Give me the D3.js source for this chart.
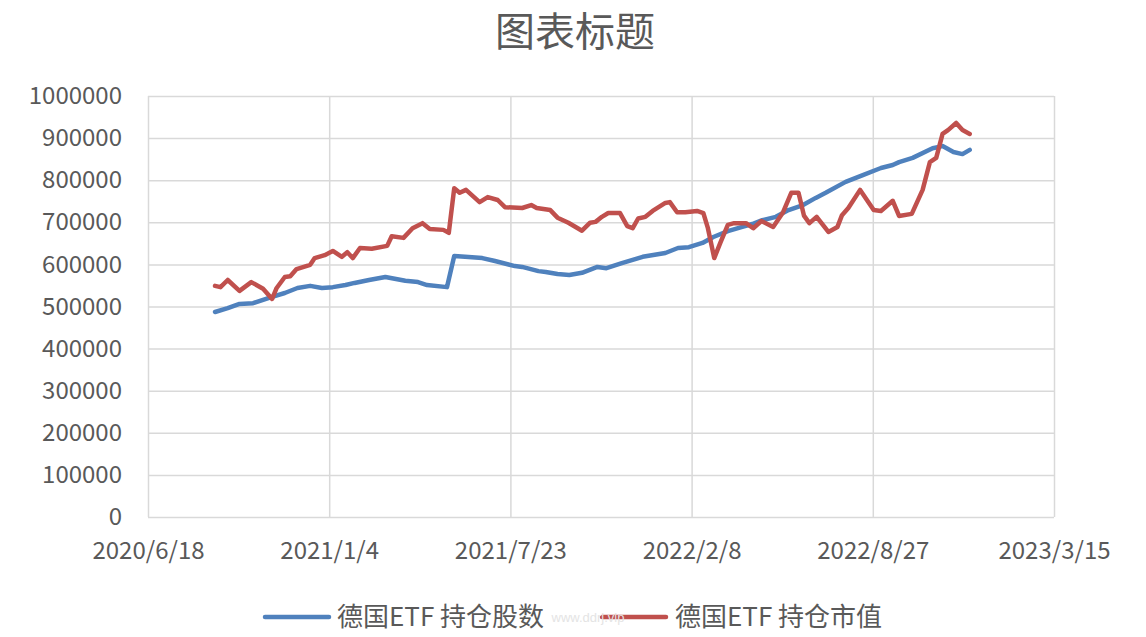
<!DOCTYPE html>
<html><head><meta charset="utf-8">
<script src="https://cdn.jsdelivr.net/npm/d3@7"></script>
<style>
html,body{margin:0;padding:0;background:#fff;}
svg{display:block;font-family:"Noto Sans CJK SC","Noto Sans",sans-serif;}
</style></head>
<body><svg id="chart" width="1146" height="637"></svg>
<script>
const chartTitle = "图表标题";
const seriesNames = ["德国ETF 持仓股数", "德国ETF 持仓市值"];
const xTickDates = ["2020-06-18","2021-01-04","2021-07-23","2022-02-08","2022-08-27","2023-03-15"];
const yTickValues = [0,100000,200000,300000,400000,500000,600000,700000,800000,900000,1000000];

// 德国ETF 持仓股数
const sharesDates = ["2020-08-31","2020-09-14","2020-09-27","2020-10-12","2020-11-02","2020-11-16","2020-11-30","2020-12-14","2020-12-27","2021-01-08","2021-01-22","2021-02-01","2021-02-17","2021-03-07","2021-03-29","2021-04-12","2021-04-22","2021-05-14","2021-05-22","2021-06-03","2021-06-22","2021-07-06","2021-07-28","2021-08-05","2021-08-23","2021-08-31","2021-09-13","2021-09-26","2021-10-10","2021-10-27","2021-11-06","2021-11-23","2021-12-16","2022-01-10","2022-01-24","2022-02-05","2022-02-20","2022-03-04","2022-03-20","2022-04-05","2022-04-16","2022-04-27","2022-05-12","2022-05-26","2022-06-11","2022-06-25","2022-07-06","2022-07-28","2022-08-16","2022-09-05","2022-09-18","2022-09-25","2022-10-10","2022-11-01","2022-11-12","2022-11-24","2022-12-04","2022-12-12"];
const sharesValues = [487000,496000,506000,508000,523000,532000,544000,549000,544000,546000,551000,556000,563000,570000,561000,558000,551000,546000,620000,618000,615000,608000,596000,594000,584000,582000,577000,575000,580000,594000,591000,603000,618000,627000,639000,641000,651000,665000,679000,689000,696000,705000,713000,729000,741000,758000,770000,796000,812000,829000,836000,843000,853000,876000,881000,867000,862000,872000];

// 德国ETF 持仓市值
const valueDates = ["2020-08-31","2020-09-06","2020-09-14","2020-09-27","2020-10-10","2020-10-23","2020-11-02","2020-11-07","2020-11-16","2020-11-22","2020-11-29","2020-12-14","2020-12-19","2020-12-30","2021-01-08","2021-01-18","2021-01-24","2021-01-30","2021-02-07","2021-02-20","2021-03-09","2021-03-14","2021-03-27","2021-04-06","2021-04-17","2021-04-25","2021-05-10","2021-05-16","2021-05-22","2021-05-28","2021-06-04","2021-06-19","2021-06-28","2021-07-09","2021-07-17","2021-08-05","2021-08-15","2021-08-21","2021-09-05","2021-09-13","2021-09-25","2021-10-10","2021-10-19","2021-10-25","2021-11-01","2021-11-08","2021-11-21","2021-11-29","2021-12-05","2021-12-11","2021-12-19","2021-12-27","2022-01-10","2022-01-15","2022-01-23","2022-02-01","2022-02-14","2022-02-21","2022-02-26","2022-03-05","2022-03-12","2022-03-20","2022-03-27","2022-04-09","2022-04-17","2022-04-26","2022-05-09","2022-05-20","2022-05-29","2022-06-06","2022-06-12","2022-06-18","2022-06-26","2022-07-09","2022-07-19","2022-07-24","2022-07-31","2022-08-13","2022-08-28","2022-09-05","2022-09-18","2022-09-25","2022-10-09","2022-10-21","2022-10-29","2022-11-05","2022-11-12","2022-11-18","2022-11-27","2022-12-04","2022-12-12"];
const valueValues = [549000,546000,563000,537000,558000,542000,518000,544000,570000,572000,589000,599000,615000,622000,632000,618000,629000,615000,639000,637000,644000,667000,663000,686000,698000,684000,682000,675000,781000,770000,777000,748000,760000,753000,736000,734000,741000,734000,729000,711000,699000,680000,699000,701000,713000,722000,722000,691000,686000,709000,713000,727000,746000,748000,724000,724000,727000,722000,686000,615000,653000,694000,698000,698000,686000,703000,689000,724000,770000,770000,716000,698000,713000,677000,689000,717000,734000,777000,729000,727000,751000,715000,720000,777000,843000,853000,910000,919000,936000,919000,910000];

const seriesColors = ["#4F81BD", "#C0504D"];

const svg = d3.select("#chart");
const parse = d3.timeParse("%Y-%m-%d");
const margin = {left:148, right:1054, top:96, bottom:517};

const x = d3.scaleTime()
  .domain([parse(xTickDates[0]), parse(xTickDates[xTickDates.length-1])])
  .range([margin.left, margin.right]);
const y = d3.scaleLinear().domain([0, 1000000]).range([margin.bottom, margin.top]);

const fmtDate = d => `${d.getFullYear()}/${d.getMonth()+1}/${d.getDate()}`;

// horizontal grid + y labels
const yAxis = svg.append("g").attr("transform", `translate(${margin.left},0)`)
  .call(d3.axisLeft(y).tickValues(yTickValues).tickFormat(d3.format("d"))
    .tickSize(-(margin.right - margin.left)).tickPadding(26));
yAxis.select(".domain").remove();
yAxis.selectAll("line").attr("stroke", "#d9d9d9").attr("stroke-width", 1.5);
yAxis.selectAll("text").attr("fill", "#595959").attr("font-size", 24)
  .attr("font-family", "'Noto Sans CJK SC', sans-serif");

// vertical grid + x labels
const xAxis = svg.append("g").attr("transform", `translate(0,${margin.bottom})`)
  .call(d3.axisBottom(x).tickValues(xTickDates.map(parse)).tickFormat(fmtDate)
    .tickSize(-(margin.bottom - margin.top)).tickPadding(25));
xAxis.select(".domain").remove();
xAxis.selectAll("line").attr("stroke", "#d9d9d9").attr("stroke-width", 1.5);
xAxis.selectAll("text").attr("fill", "#595959").attr("font-size", 24)
  .attr("font-family", "'Noto Sans CJK SC', sans-serif");

// lines
const line = d3.line().x(d => x(d[0])).y(d => y(d[1]));
const seriesData = [
  sharesDates.map((d,i) => [parse(d), sharesValues[i]]),
  valueDates.map((d,i) => [parse(d), valueValues[i]])
];
seriesData.forEach((data, i) => {
  svg.append("path").datum(data)
    .attr("fill", "none").attr("stroke", seriesColors[i])
    .attr("stroke-width", 4.5).attr("stroke-linejoin", "round").attr("stroke-linecap", "round")
    .attr("d", line);
});

// title
svg.append("text").attr("x", 575).attr("y", 32).attr("dy", "0.36em")
  .attr("text-anchor", "middle").attr("fill", "#595959").attr("font-size", 40)
  .text(chartTitle);

// legend
const legendItems = [{x:265, tx:337}, {x:602, tx:675}];
legendItems.forEach((it, i) => {
  svg.append("line").attr("x1", it.x).attr("x2", it.x + 64).attr("y1", 617).attr("y2", 617)
    .attr("stroke", seriesColors[i]).attr("stroke-width", 4.5).attr("stroke-linecap", "round");
  svg.append("text").attr("x", it.tx).attr("y", 617).attr("dy", "0.36em")
    .attr("fill", "#595959").attr("font-size", 26).text(seriesNames[i]);
});

// watermark
svg.append("text").attr("x", 588).attr("y", 617).attr("dy", "0.36em").attr("text-anchor", "middle")
  .attr("fill", "#e4e4e4").attr("font-size", 13).attr("font-family", "Liberation Sans, sans-serif")
  .text("www.ddrj.vip");
</script></body></html>
